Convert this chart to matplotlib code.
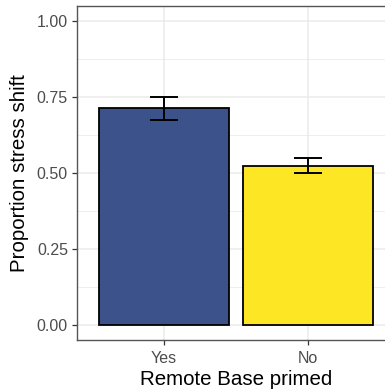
import matplotlib.pyplot as plt
import numpy as np

# data
groups = ['Yes', 'No']
props = [0.714, 0.524]
err_lo = [0.674, 0.500]
err_hi = [0.751, 0.549]
colors = ['#3B528B', '#FDE725']

plt.rcParams['font.family'] = ['Liberation Sans', 'DejaVu Sans']

fig = plt.figure(figsize=(3.85, 3.91), dpi=100)
# panel runs off the right edge like in the reference
ax = fig.add_axes([77 / 385, 51 / 391, 318 / 385, 334 / 391])

x = np.arange(1, len(groups) + 1)
yerr = [np.array(props) - np.array(err_lo), np.array(err_hi) - np.array(props)]

ax.bar(x, props, width=0.9, color=colors, edgecolor='black', linewidth=1.3, zorder=3)
ax.errorbar(x, props, yerr=yerr, fmt='none', ecolor='black', elinewidth=1.4,
            capsize=10.4, capthick=1.4, zorder=4)

ax.set_xlim(0.4, 2.6)
ax.set_ylim(-0.05, 1.05)
ax.set_xticks(x)
ax.set_xticklabels(groups)
ax.set_yticks([0, 0.25, 0.5, 0.75, 1.0])
ax.set_yticklabels(['0.00', '0.25', '0.50', '0.75', '1.00'])
ax.set_yticks([0.125, 0.375, 0.625, 0.875], minor=True)

ax.grid(which='major', color='#EBEBEB', linewidth=1.1, zorder=0)
ax.grid(which='minor', axis='y', color='#EBEBEB', linewidth=0.6, zorder=0)
ax.tick_params(which='minor', length=0)
ax.tick_params(which='major', length=3.5, width=0.9, color='#333333',
               labelcolor='#4D4D4D', labelsize=11.5)
ax.tick_params(axis='x', pad=4.5)
ax.tick_params(axis='y', pad=3)
for s in ax.spines.values():
    s.set_color('#555555')
    s.set_linewidth(1.0)
ax.set_axisbelow(True)

ax.set_xlabel('Remote Base primed', fontsize=14.8, labelpad=3)
ax.set_ylabel('Proportion stress shift', fontsize=14.8, labelpad=6)

fig.savefig('out.png', dpi=100)
